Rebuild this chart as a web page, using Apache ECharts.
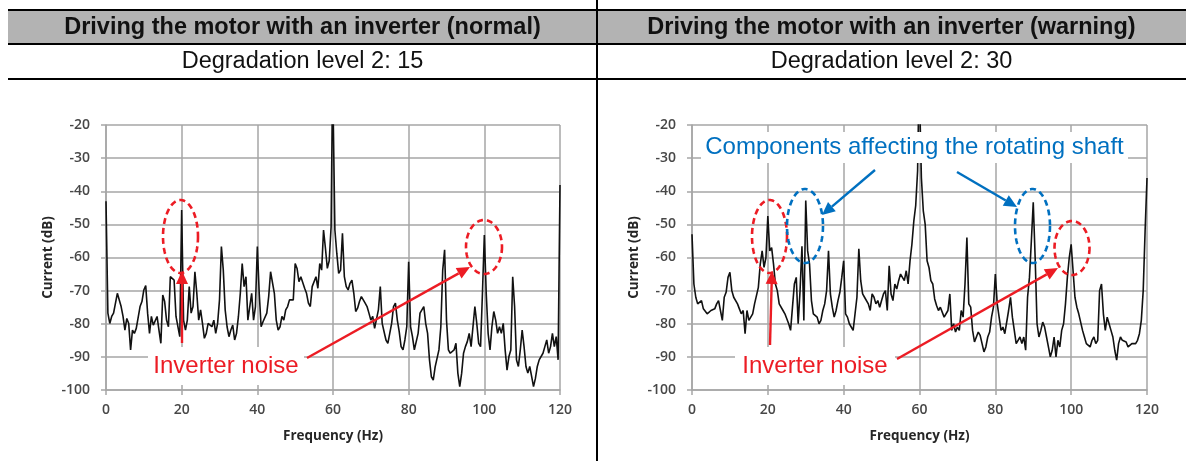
<!DOCTYPE html>
<html><head><meta charset="utf-8">
<script src="https://cdn.jsdelivr.net/npm/echarts@6/dist/echarts.min.js"></script>
<style>html,body{margin:0;padding:0;background:#fff}#c{width:1186px;height:461px}</style>
</head><body><div id="c"></div>
<script>
// ---------- texts ----------
const headers = ['Driving the motor with an inverter (normal)', 'Driving the motor with an inverter (warning)'];
const subtitles = ['Degradation level 2: 15', 'Degradation level 2: 30'];
const yAxisName = 'Current (dB)';
const xAxisName = 'Frequency (Hz)';
const noiseLabel = 'Inverter noise';
const shaftLabel = 'Components affecting the rotating shaft';
const xTicks = {min: 0, max: 120, step: 20};
const yTicks = {min: -100, max: -20, step: 10};

// ---------- data: [frequency Hz, current dB] ----------
const normalSpectrum = [
[0,-43],[0.5,-76.8],[1,-79.9],[1.5,-77.8],[2,-76.8],[2.5,-76.8],[3,-70.8],[3.5,-71.3],[4,-74.8],[4.5,-77.8],
[5,-81.9],[5.5,-78.4],[6,-79.9],[6.5,-87.9],[7,-81.9],[7.5,-82.9],[8,-81.4],[8.5,-80.9],[9,-74.8],[9.5,-73.3],
[10,-69.8],[10.5,-68.5],[11,-76.8],[11.5,-82.9],[12,-77.8],[12.5,-80.4],[13,-80.9],[13.5,-77.8],[14,-81.9],[14.5,-85.9],
[15,-71.3],[15.5,-73.3],[16,-78.9],[16.5,-80.9],[17,-65.8],[17.5,-65.3],[18,-66.8],[18.5,-77.8],[19,-77.8],[19.5,-83.9],
[20,-45.7],[20.5,-78.9],[21,-81.9],[21.5,-78.9],[22,-68.8],[22.5,-76.8],[23,-74.8],[23.5,-64.3],[24,-70.8],[24.5,-78.9],
[25,-75.8],[25.5,-79.9],[26,-84.4],[26.5,-82.9],[27,-79.9],[27.5,-79.9],[28,-80.9],[28.5,-78.9],[29,-82.9],[29.5,-79.9],
[30,-72.8],[30.5,-56.7],[31,-63.8],[31.5,-75.8],[32,-80.9],[32.5,-83.9],[33,-81.9],[33.5,-80.4],[34,-84.9],[34.5,-82.9],
[35,-77.8],[35.5,-70.8],[36,-61.8],[36.5,-68.8],[37,-65.8],[37.5,-78.9],[38,-78.9],[38.5,-70.8],[39,-78.9],[39.5,-74.8],
[40,-56.7],[40.5,-70.8],[41,-80.9],[41.5,-79.4],[42,-78.9],[42.5,-76.8],[43,-71.8],[43.5,-64.3],[44,-63.8],[44.5,-70.8],
[45,-78.9],[45.5,-81.9],[46,-80.9],[46.5,-77.8],[47,-78.9],[47.5,-75.8],[48,-74.8],[48.5,-72.8],[49,-73.3],[49.5,-72.8],
[50,-61.8],[50.5,-63.3],[51,-67.3],[51.5,-65.8],[52,-65.3],[52.5,-69.3],[53,-70.8],[53.5,-73.8],[54,-74.8],[54.5,-68.8],
[55,-68.3],[55.5,-65.8],[56,-69.3],[56.5,-61.8],[57,-63.8],[57.5,-51.7],[58,-57.2],[58.5,-63.3],[59,-61],[59.5,-50.7],
[59.9,-5],[60.1,-5],
[60.5,-51.7],[61,-58.7],[61.5,-64.8],[62,-63.8],[62.5,-52.7],[63,-65.8],[63.5,-68.8],[64,-69.8],[64.5,-67.8],
[65,-66.8],[65.5,-70.8],[66,-76.3],[66.5,-75.3],[67,-73.3],[67.5,-71.8],[68,-72.8],[68.5,-73.8],[69,-74.8],[69.5,-76.8],
[70,-78.9],[70.5,-77.8],[71,-81.4],[71.5,-80.9],[72,-75.8],[72.5,-68.8],[73,-79.9],[73.5,-82.4],[74,-84.9],[74.5,-85.9],
[75,-82.9],[75.5,-79.9],[76,-74.8],[76.5,-73.8],[77,-78.9],[77.5,-82.4],[78,-86.9],[78.5,-87.9],[79,-84.9],[79.5,-80.9],
[80,-61.3],[80.5,-80.9],[81,-83.9],[81.5,-87.9],[82,-87.9],[82.5,-82.9],[83,-76.8],[83.5,-76.8],[84,-74.8],[84.5,-79.9],
[85,-82.9],[85.5,-90.9],[86,-96],[86.5,-97],[87,-93],[87.5,-92.4],[88,-87.9],[88.5,-80.9],[89,-63.8],[89.5,-57.7],
[90,-78.9],[90.5,-87.9],[91,-88.9],[91.5,-88.9],[92,-87.9],[92.5,-85.9],[93,-94.9],[93.5,-99],[94,-95],[94.5,-88.9],
[95,-86.9],[95.5,-85.4],[96,-82.9],[96.5,-86.9],[97,-80.9],[97.5,-74.8],[98,-79.9],[98.5,-85.9],[99,-86.9],[99.5,-70.8],
[100,-53.2],[100.5,-70.8],[101,-82.9],[101.5,-87.9],[102,-80.9],[102.5,-76.3],[103,-78.9],[103.5,-82.9],[104,-80.9],[104.5,-82.9],
[105,-79.9],[105.5,-87.9],[106,-94],[106.5,-89.9],[107,-87.9],[107.5,-65.8],[108,-74.8],[108.5,-90.9],[109,-92.9],[109.5,-87.9],
[110,-81.9],[110.5,-86.9],[111,-92.9],[111.5,-94.9],[112,-92.9],[112.5,-95.9],[113,-99],[113.5,-96.5],[114,-92.9],[114.5,-90.9],
[115,-90.9],[115.5,-88.9],[116,-86.9],[116.5,-84.9],[117,-88.9],[117.5,-86.9],[118,-82.9],[118.5,-86.9],[119,-83.9],[119.5,-90.9],
[120,-38.1]
];
const warningSpectrum = [
[0,-53],[0.5,-68],[1,-72],[1.5,-74],[2,-73.5],[2.5,-73],[3,-75.5],[3.5,-76],[4,-77],[4.5,-76.5],
[5,-76],[5.5,-75.5],[6,-75.5],[6.5,-74],[7,-73],[7.5,-76],[8,-79],[8.5,-72],[9,-70.5],[9.5,-66],
[10,-64.5],[10.5,-70],[11,-72],[11.5,-71.5],[12,-74],[12.5,-75.5],[13,-77],[13.5,-76],[14,-83],[14.5,-76],
[15,-79],[15.5,-78],[16,-77],[16.5,-74],[17,-71.5],[17.5,-69],[18,-62],[18.5,-58],[19,-63],[19.5,-60],
[20,-47.5],[20.5,-58],[21,-57],[21.5,-62],[22,-68],[22.5,-70],[23,-74],[23.5,-74.5],[24,-76],[24.5,-77],
[25,-77],[25.5,-80],[26,-82],[26.5,-75],[27,-68],[27.5,-66],[28,-80],[28.5,-70],[29,-56.6],[29.5,-79],
[30,-42.8],[30.5,-58],[31,-62],[31.5,-73],[32,-77],[32.5,-77.5],[33,-78],[33.5,-80],[34,-79],[34.5,-76],
[35,-74],[35.5,-70],[36,-58],[36.5,-71],[37,-75],[37.5,-78],[38,-76],[38.5,-73],[39,-70.5],[39.5,-66],
[40,-61],[40.5,-77],[41,-78],[41.5,-80],[42,-80.5],[42.5,-82],[43,-82.5],[43.5,-72],[44,-57.4],[44.5,-67],
[45,-71],[45.5,-72],[46,-72],[46.5,-74],[47,-76],[47.5,-71],[48,-72],[48.5,-74],[49,-73],[49.5,-75],
[50,-73],[50.5,-71],[51,-70],[51.5,-76],[52,-62.5],[52.5,-71],[53,-73],[53.5,-68],[54,-69.5],[54.5,-67],
[55,-65],[55.5,-66],[56,-67],[56.5,-64],[57,-68],[57.5,-61],[58,-56],[58.5,-49],[59,-44.3],[59.5,-33.8],
[59.9,-5],[60.1,-5],
[60.5,-36],[61,-45.9],[61.5,-50],[62,-61],[62.5,-63],[63,-67],[63.5,-68],[64,-72.5],[64.5,-74.5],
[65,-76],[65.5,-75],[66,-75.5],[66.5,-78],[67,-77.5],[67.5,-76],[68,-71],[68.5,-82],[69,-80],[69.5,-82.5],
[70,-81],[70.5,-82],[71,-76],[71.5,-78],[72,-68],[72.5,-54],[73,-74],[73.5,-75],[74,-82],[74.5,-85.5],
[75,-84],[75.5,-82.5],[76,-83.5],[76.5,-86],[77,-88.5],[77.5,-87],[78,-84],[78.5,-82.5],[79,-78],[79.5,-75],
[80,-65],[80.5,-74],[81,-78],[81.5,-82],[82,-81],[82.5,-83],[83,-83],[83.5,-76],[84,-72],[84.5,-78],
[85,-82],[85.5,-86],[86,-85],[86.5,-84],[87,-86],[87.5,-84],[88,-88],[88.5,-72],[89,-66],[89.5,-55],
[90,-43.3],[90.5,-60],[91,-80],[91.5,-84],[92,-82],[92.5,-79.5],[93,-81],[93.5,-84],[94,-87],[94.5,-90],
[95,-88],[95.5,-84],[96,-90],[96.5,-85],[97,-87],[97.5,-82],[98,-80],[98.5,-74],[99,-66],[99.5,-60],
[100,-56],[100.5,-64],[101,-72],[101.5,-75],[102,-77],[102.5,-77],[103,-82],[103.5,-84],[104,-86],[104.5,-85.5],
[105,-87],[105.5,-85],[106,-84],[106.5,-86],[107,-85],[107.5,-70],[108,-68],[108.5,-77],[109,-82],[109.5,-78],
[110,-80],[110.5,-82],[111,-84],[111.5,-88],[112,-91],[112.5,-86],[113,-84],[113.5,-85],[114,-84.5],[114.5,-85.5],
[115,-87],[115.5,-87.5],[116,-86],[116.5,-85.5],[117,-86],[117.5,-85],[118,-83],[118.5,-79],[119,-70],[119.5,-52],
[120,-36]
];

// ---------- styles ----------
const GRID_COLOR = '#a6a6a6';
const LABEL_COLOR = '#474747';
const RED = '#ec1c24';
const BLUE = '#0070c0';
const FONT = 'Open Sans';

function xAxis(gi) {
  return {
    type: 'value', gridIndex: gi, min: xTicks.min, max: xTicks.max, interval: xTicks.step,
    name: xAxisName, nameLocation: 'middle', nameGap: 39,
    nameTextStyle: {fontFamily: FONT, fontWeight: 'bold', fontSize: 13.5, color: '#262626'},
    axisLine: {show: true, lineStyle: {color: GRID_COLOR, width: 1.5}},
    axisTick: {show: true, length: 5, lineStyle: {color: GRID_COLOR, width: 1.5}},
    axisLabel: {margin: 13, color: LABEL_COLOR, fontFamily: FONT, fontWeight: 600, fontSize: 14},
    splitLine: {show: true, lineStyle: {color: GRID_COLOR, width: 1.5}}
  };
}
function yAxis(gi) {
  return {
    type: 'value', gridIndex: gi, min: yTicks.min, max: yTicks.max, interval: yTicks.step,
    name: yAxisName, nameLocation: 'middle', nameGap: 51, nameRotate: 90,
    nameTextStyle: {fontFamily: FONT, fontWeight: 'bold', fontSize: 13.5, color: '#262626'},
    axisLine: {show: true, lineStyle: {color: GRID_COLOR, width: 1.5}},
    axisTick: {show: true, length: 5, lineStyle: {color: GRID_COLOR, width: 1.5}},
    axisLabel: {margin: 16, color: LABEL_COLOR, fontFamily: FONT, fontWeight: 600, fontSize: 14},
    splitLine: {show: true, lineStyle: {color: GRID_COLOR, width: 1.5}}
  };
}
function lineSeries(gi, data) {
  return {
    type: 'line', xAxisIndex: gi, yAxisIndex: gi, data: data, showSymbol: false, symbol: 'none',
    clip: true, animation: false, lineStyle: {color: '#111', width: 1.6}, z: 5
  };
}

// ---------- overlay helpers ----------
function ellipse(cx, cy, rx, ry, color) {
  const pts = [];
  for (let i = 0; i < 90; i++) {
    const a = i / 90 * 2 * Math.PI;
    pts.push([cx + rx * Math.cos(a), cy + ry * Math.sin(a)]);
  }
  return {type: 'polygon', shape: {points: pts}, style: {fill: 'none', stroke: color, lineWidth: 2.6, lineDash: [6, 4]}, z: 100};
}
function arrow(x1, y1, x2, y2, color) {
  const ang = Math.atan2(y2 - y1, x2 - x1);
  const L = 13, W = 6;
  const bx = x2 - L * Math.cos(ang), by = y2 - L * Math.sin(ang);
  const px = -Math.sin(ang), py = Math.cos(ang);
  return [
    {type: 'line', shape: {x1: x1, y1: y1, x2: bx, y2: by}, style: {stroke: color, lineWidth: 2.4}, z: 100},
    {type: 'polygon', shape: {points: [[x2, y2], [bx + W * px, by + W * py], [bx - W * px, by - W * py]]}, style: {fill: color}, z: 100}
  ];
}
function boxText(x, y, w, h, text, color) {
  return [
    {type: 'rect', shape: {x: x, y: y, width: w, height: h}, style: {fill: '#fff'}, z: 99},
    {type: 'text', x: x + w / 2, y: y + h / 2, style: {text: text, fill: color, font: '24px "Liberation Sans", Arial, sans-serif', align: 'center', verticalAlign: 'middle'}, z: 101}
  ];
}

const graphics = [];
// table frame
graphics.push({type: 'rect', shape: {x: 8, y: 10, width: 1178, height: 33}, style: {fill: '#b3b3b3'}, z: 1});
[10, 44, 79].forEach(function (yy) {
  graphics.push({type: 'line', shape: {x1: 8, y1: yy, x2: 1186, y2: yy}, style: {stroke: '#000', lineWidth: 2}, z: 2});
});
graphics.push({type: 'line', shape: {x1: 597, y1: 0, x2: 597, y2: 461}, style: {stroke: '#000', lineWidth: 2}, z: 2});
[302.5, 891.5].forEach(function (cx, i) {
  graphics.push({type: 'text', x: cx, y: 27.5, style: {text: headers[i], fill: '#111', font: 'bold 23.5px "Liberation Sans", Arial, sans-serif', align: 'center', verticalAlign: 'middle'}, z: 3});
  graphics.push({type: 'text', x: cx, y: 61.5, style: {text: subtitles[i], fill: '#111', font: '23.5px "Liberation Sans", Arial, sans-serif', align: 'center', verticalAlign: 'middle'}, z: 3});
});

// left chart annotations
graphics.push(ellipse(180.5, 236.5, 17.5, 36.5, RED));
graphics.push(ellipse(484, 247, 18, 27, RED));
graphics.push.apply(graphics, boxText(148, 347, 156, 38, noiseLabel, RED));
graphics.push.apply(graphics, arrow(182, 343, 182, 271, RED));
graphics.push.apply(graphics, arrow(307, 358, 470, 267, RED));

// right chart annotations
graphics.push(ellipse(769.5, 236.5, 17.5, 36.5, RED));
graphics.push(ellipse(805, 226, 18, 37, BLUE));
graphics.push(ellipse(1032.5, 226, 17.5, 37, BLUE));
graphics.push(ellipse(1072, 248, 17.5, 27, RED));
graphics.push.apply(graphics, boxText(735, 347, 160, 38, noiseLabel, RED));
graphics.push.apply(graphics, arrow(770, 345, 772, 271, RED));
graphics.push.apply(graphics, arrow(897, 359, 1058, 268, RED));
graphics.push.apply(graphics, boxText(701, 132, 427, 31, shaftLabel, BLUE));
graphics.push.apply(graphics, arrow(875, 170, 822, 215, BLUE));
graphics.push.apply(graphics, arrow(957, 172, 1017, 207, BLUE));

const chart = echarts.init(document.getElementById('c'), null, {renderer: 'canvas'});
chart.setOption({
  animation: false,
  backgroundColor: '#fff',
  grid: [
    {left: 106, top: 125, width: 454, height: 265, containLabel: false},
    {left: 692, top: 125, width: 455, height: 265, containLabel: false}
  ],
  xAxis: [xAxis(0), xAxis(1)],
  yAxis: [yAxis(0), yAxis(1)],
  series: [lineSeries(0, normalSpectrum), lineSeries(1, warningSpectrum)],
  graphic: {elements: graphics}
});
</script>
</body></html>
